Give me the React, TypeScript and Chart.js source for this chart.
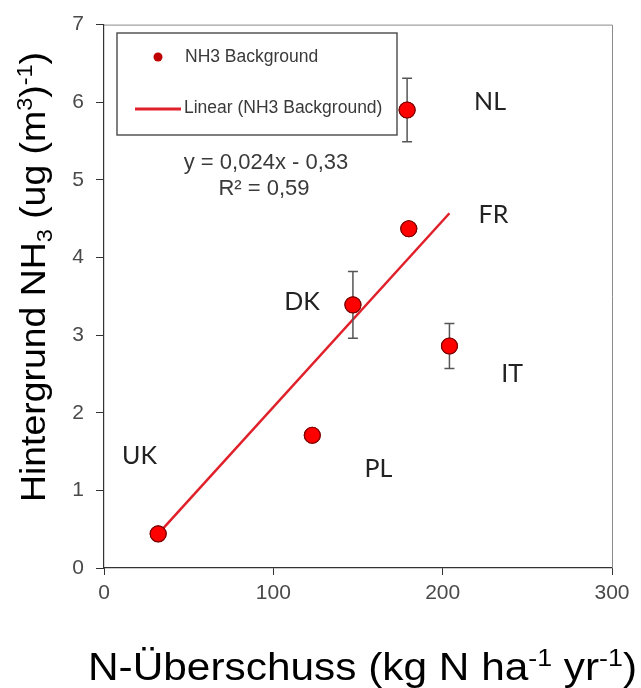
import React, { useEffect, useRef } from "react";
import { Chart, registerables } from "chart.js";

Chart.register(...registerables);

const countries = ["UK", "PL", "DK", "FR", "NL", "IT"];
const nSurplus = [32, 123, 147, 180, 179, 204];
const nh3 = [0.44, 1.71, 3.39, 4.37, 5.9, 2.86];
const errors = [0, 0.06, 0.43, 0.04, 0.41, 0.29];
const labelX = [21, 162, 117, 230, 228, 241];
const labelY = [1.45, 1.28, 3.43, 4.55, 6.0, 2.5];
const trendX = [32, 204];
const trendY = [0.44, 4.57];
const xTicks = [0, 100, 200, 300];
const yTicks = [0, 1, 2, 3, 4, 5, 6, 7];

const FONT = "'Liberation Sans', Arial, sans-serif";

type Seg = { t: string; k?: "sup" | "sub" };

function segsWidth(ctx: CanvasRenderingContext2D, segs: Seg[], size: number, small: number) {
  let w = 0;
  for (const s of segs) {
    ctx.font = `${s.k ? small : size}px ${FONT}`;
    w += ctx.measureText(s.t).width;
  }
  return w;
}

function drawSegs(ctx: CanvasRenderingContext2D, segs: Seg[], size: number, small: number, targetW: number) {
  const w = segsWidth(ctx, segs, size, small);
  ctx.save();
  ctx.scale(targetW / w, 1);
  let cx = 0;
  for (const s of segs) {
    const sz = s.k ? small : size;
    ctx.font = `${sz}px ${FONT}`;
    let dy = 0;
    if (s.k === "sup") dy = -size * 0.38;
    if (s.k === "sub") dy = size * 0.2;
    ctx.fillText(s.t, cx, dy);
    cx += ctx.measureText(s.t).width;
  }
  ctx.restore();
}

const overlay = {
  id: "overlay",
  afterDatasetsDraw(chart: any) {
    const ctx: CanvasRenderingContext2D = chart.ctx;
    const xs = chart.scales.x;
    const ys = chart.scales.y;
    const a = chart.chartArea;
    ctx.save();
    ctx.strokeStyle = "#8a8a8a";
    ctx.lineWidth = 1;
    ctx.beginPath();
    ctx.moveTo(a.left, a.top + 0.5);
    ctx.lineTo(a.right + 0.5, a.top + 0.5);
    ctx.lineTo(a.right + 0.5, a.bottom);
    ctx.stroke();
    ctx.strokeStyle = "#555";
    ctx.lineWidth = 1.5;
    for (let i = 0; i < countries.length; i++) {
      if (!errors[i]) continue;
      const px = xs.getPixelForValue(nSurplus[i]);
      const p1 = ys.getPixelForValue(nh3[i] + errors[i]);
      const p2 = ys.getPixelForValue(nh3[i] - errors[i]);
      ctx.beginPath();
      ctx.moveTo(px, p1);
      ctx.lineTo(px, p2);
      ctx.moveTo(px - 5, p1);
      ctx.lineTo(px + 5, p1);
      ctx.moveTo(px - 5, p2);
      ctx.lineTo(px + 5, p2);
      ctx.stroke();
    }
    ctx.restore();
  },
  afterDraw(chart: any) {
    const ctx: CanvasRenderingContext2D = chart.ctx;
    const xs = chart.scales.x;
    const ys = chart.scales.y;
    ctx.save();
    const meta = chart.getDatasetMeta(0);
    for (const el of meta.data) {
      ctx.beginPath();
      ctx.arc(el.x, el.y, 8, 0, Math.PI * 2);
      ctx.fillStyle = "#ff0000";
      ctx.fill();
      ctx.strokeStyle = "#7a0000";
      ctx.lineWidth = 1.2;
      ctx.stroke();
    }
    // country labels
    ctx.fillStyle = "#222";
    ctx.font = `25px Lato, 'Open Sans', sans-serif`;
    ctx.textAlign = "center";
    ctx.textBaseline = "middle";
    for (let i = 0; i < countries.length; i++) {
      ctx.fillText(countries[i], xs.getPixelForValue(labelX[i]), ys.getPixelForValue(labelY[i]));
    }
    // legend box
    ctx.strokeStyle = "#555";
    ctx.lineWidth = 1.5;
    ctx.strokeRect(117, 33, 280, 102);
    ctx.beginPath();
    ctx.arc(158, 57, 4.5, 0, Math.PI * 2);
    ctx.fillStyle = "#c00000";
    ctx.fill();
    ctx.strokeStyle = "#e0202a";
    ctx.lineWidth = 3;
    ctx.beginPath();
    ctx.moveTo(135, 109);
    ctx.lineTo(181, 109);
    ctx.stroke();
    ctx.fillStyle = "#3a3a3a";
    ctx.textAlign = "left";
    ctx.font = `17.5px ${FONT}`;
    ctx.fillText("NH3 Background", 185, 57);
    ctx.fillText("Linear (NH3 Background)", 184, 108);
    // equation
    ctx.textAlign = "center";
    ctx.font = `22px ${FONT}`;
    ctx.fillText("y = 0,024x - 0,33", 266, 163);
    ctx.fillText("R² = 0,59", 264, 189);
    // axis titles
    ctx.fillStyle = "#000";
    ctx.textAlign = "left";
    ctx.textBaseline = "alphabetic";
    ctx.save();
    ctx.translate(88, 680);
    drawSegs(ctx, [
      { t: "N-Überschuss (kg N ha" }, { t: "-1", k: "sup" }, { t: " yr" }, { t: "-1", k: "sup" }, { t: ")" },
    ], 38, 24, 549);
    ctx.restore();
    ctx.save();
    ctx.translate(45, 502);
    ctx.rotate(-Math.PI / 2);
    drawSegs(ctx, [
      { t: "Hintergrund NH" }, { t: "3", k: "sub" }, { t: " (ug (m" }, { t: "3", k: "sup" }, { t: ")" }, { t: "-1", k: "sup" }, { t: ")" },
    ], 35, 22, 450);
    ctx.restore();
    ctx.restore();
  },
};

export default function App() {
  const ref = useRef<HTMLCanvasElement>(null);
  useEffect(() => {
    document.body.style.margin = "0";
    const chart = new Chart(ref.current!, {
      type: "scatter",
      data: {
        datasets: [
          {
            label: "NH3 Background",
            data: nSurplus.map((x, i) => ({ x, y: nh3[i] })),
            pointRadius: 8,
            backgroundColor: "#ff0000",
            borderColor: "#7a0000",
            order: 1,
          },
          {
            label: "Linear (NH3 Background)",
            type: "line",
            data: trendX.map((x, i) => ({ x, y: trendY[i] })),
            borderColor: "#e0202a",
            borderWidth: 2.5,
            pointRadius: 0,
            fill: false,
            order: 2,
          } as any,
        ],
      },
      plugins: [overlay],
      options: {
        animation: false,
        responsive: false,
        events: [],
        layout: { padding: { top: 17, right: 29, left: 0, bottom: 0 } },
        plugins: { legend: { display: false }, tooltip: { enabled: false } },
        scales: {
          x: {
            type: "linear",
            min: 0,
            max: 300,
            afterFit: (s: any) => { s.height = 120; },
            afterBuildTicks: (s: any) => { s.ticks = xTicks.map((v) => ({ value: v })); },
            border: { color: "#333", width: 1.2 },
            grid: { drawOnChartArea: false, color: "#333", tickLength: 7 },
            ticks: { color: "#4a4a4a", font: { size: 21, family: FONT }, padding: 6 },
          },
          y: {
            type: "linear",
            min: 0,
            max: 7,
            afterFit: (s: any) => { s.width = 104; },
            afterBuildTicks: (s: any) => { s.ticks = yTicks.map((v) => ({ value: v })); },
            border: { color: "#333", width: 1.2 },
            grid: { drawOnChartArea: false, color: "#333", tickLength: 8 },
            ticks: { color: "#4a4a4a", font: { size: 21, family: FONT }, padding: 12 },
          },
        },
      },
    });
    return () => chart.destroy();
  }, []);
  return <canvas ref={ref} width={641} height={688} style={{ display: "block" }} />;
}
